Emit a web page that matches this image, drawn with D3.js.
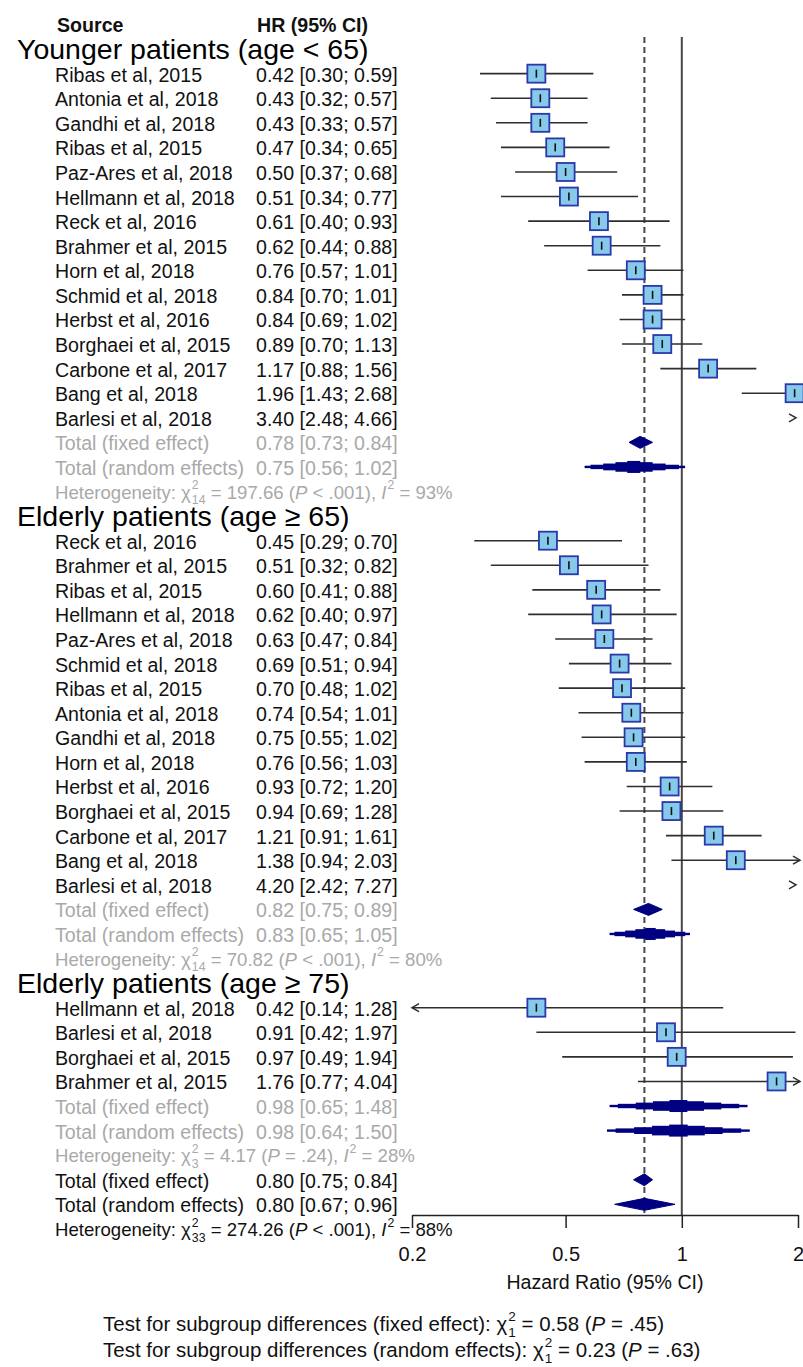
<!DOCTYPE html>
<html>
<head>
<meta charset="utf-8">
<script src="https://cdn.jsdelivr.net/npm/d3@7"></script>
<style>
  body { margin: 0; background: #fff; }
  svg { display: block; }
  text { font-family: "Liberation Sans", Arial, sans-serif; white-space: pre; }
</style>
</head>
<body>
<svg id="chart" width="803" height="1367"></svg>
<script>
// Data.
const groupTitles = ['Younger patients (age < 65)', 'Elderly patients (age \u2265 65)', 'Elderly patients (age \u2265 75)'];

const youngStudy = ['Ribas et al, 2015', 'Antonia et al, 2018', 'Gandhi et al, 2018', 'Ribas et al, 2015',
  'Paz-Ares et al, 2018', 'Hellmann et al, 2018', 'Reck et al, 2016', 'Brahmer et al, 2015', 'Horn et al, 2018',
  'Schmid et al, 2018', 'Herbst et al, 2016', 'Borghaei et al, 2015', 'Carbone et al, 2017', 'Bang et al, 2018',
  'Barlesi et al, 2018'];
const youngHr = [0.42, 0.43, 0.43, 0.47, 0.50, 0.51, 0.61, 0.62, 0.76, 0.84, 0.84, 0.89, 1.17, 1.96, 3.40];
const youngLo = [0.30, 0.32, 0.33, 0.34, 0.37, 0.34, 0.40, 0.44, 0.57, 0.70, 0.69, 0.70, 0.88, 1.43, 2.48];
const youngHi = [0.59, 0.57, 0.57, 0.65, 0.68, 0.77, 0.93, 0.88, 1.01, 1.01, 1.02, 1.13, 1.56, 2.68, 4.66];

const old65Study = ['Reck et al, 2016', 'Brahmer et al, 2015', 'Ribas et al, 2015', 'Hellmann et al, 2018',
  'Paz-Ares et al, 2018', 'Schmid et al, 2018', 'Ribas et al, 2015', 'Antonia et al, 2018', 'Gandhi et al, 2018',
  'Horn et al, 2018', 'Herbst et al, 2016', 'Borghaei et al, 2015', 'Carbone et al, 2017', 'Bang et al, 2018',
  'Barlesi et al, 2018'];
const old65Hr = [0.45, 0.51, 0.60, 0.62, 0.63, 0.69, 0.70, 0.74, 0.75, 0.76, 0.93, 0.94, 1.21, 1.38, 4.20];
const old65Lo = [0.29, 0.32, 0.41, 0.40, 0.47, 0.51, 0.48, 0.54, 0.55, 0.56, 0.72, 0.69, 0.91, 0.94, 2.42];
const old65Hi = [0.70, 0.82, 0.88, 0.97, 0.84, 0.94, 1.02, 1.01, 1.02, 1.03, 1.20, 1.28, 1.61, 2.03, 7.27];

const old75Study = ['Hellmann et al, 2018', 'Barlesi et al, 2018', 'Borghaei et al, 2015', 'Brahmer et al, 2015'];
const old75Hr = [0.42, 0.91, 0.97, 1.76];
const old75Lo = [0.14, 0.42, 0.49, 0.77];
const old75Hi = [1.28, 1.97, 1.94, 4.04];

// Pooled estimates per subgroup: [HR, lower, upper].
const groupFixed = [[0.78, 0.73, 0.84], [0.82, 0.75, 0.89], [0.98, 0.65, 1.48]];
const groupRandom = [[0.75, 0.56, 1.02], [0.83, 0.65, 1.05], [0.98, 0.64, 1.50]];
const hetDf = [14, 14, 3, 33];
const hetQ = ['197.66', '70.82', '4.17', '274.26'];
const hetP = ['< .001', '< .001', '= .24', '< .001'];
const hetI2 = ['93%', '80%', '28%', '88%'];

const overallFixed = [0.80, 0.75, 0.84];
const overallRandom = [0.80, 0.67, 0.96];

const axisTicks = [0.2, 0.5, 1, 2];
const testLabels = ['fixed effect', 'random effects'];
const testDf = [1, 1];
const testChi = ['0.58', '0.23'];
const testP = ['.45', '.63'];

// Layout.
const font = 'Liberation Sans';
const studySize = 19.6;
const hetSize = 18.6;
const black = '#111';
const grey = '#a9a9a9';
const fmt = d3.format('.2f');

const svg = d3.select('#chart');
const x = d3.scaleLog().domain([0.2, 2]).range([412, 798]);
const rowY = i => 24.5 + 24.58 * i;
const base = 8; // text baseline below row centre

// Assemble row list.
const groups = [
  [youngStudy, youngHr, youngLo, youngHi],
  [old65Study, old65Hr, old65Lo, old65Hi],
  [old75Study, old75Hr, old75Lo, old75Hi]
];
const rows = [];
let idx = 1;
groups.forEach((g, gi) => {
  rows.push({ type: 'title', i: idx++, label: groupTitles[gi] });
  g[0].forEach((s, k) => {
    rows.push({ type: 'study', i: idx++, label: s, est: [g[1][k], g[2][k], g[3][k]] });
  });
  rows.push({ type: 'pooled', i: idx++, label: 'Total (fixed effect)', est: groupFixed[gi], col: grey });
  rows.push({ type: 'pooled', i: idx++, label: 'Total (random effects)', est: groupRandom[gi], col: grey });
  rows.push({ type: 'het', i: idx++, h: gi, col: grey });
});
rows.push({ type: 'pooled', i: idx++, label: 'Total (fixed effect)', est: overallFixed, col: black });
rows.push({ type: 'pooled', i: idx++, label: 'Total (random effects)', est: overallRandom, col: black });
rows.push({ type: 'het', i: idx++, h: 3, col: black });

// Text with italics and stacked super/subscripts.
function richText(g, x0, y, parts, size, color) {
  let cx = x0;
  parts.forEach(p => {
    if (p.sup !== undefined || p.sub !== undefined) {
      let w = 0;
      if (p.sup !== undefined) {
        const t = g.append('text').attr('x', cx + 1).attr('y', y - size * 0.5)
          .style('font-size', size * 0.66 + 'px').attr('fill', color).text(p.sup);
        w = Math.max(w, t.node().getComputedTextLength());
      }
      if (p.sub !== undefined) {
        const t = g.append('text').attr('x', cx + 1).attr('y', y + size * 0.3)
          .style('font-size', size * 0.66 + 'px').attr('fill', color).text(p.sub);
        w = Math.max(w, t.node().getComputedTextLength());
      }
      cx += w + 1;
    } else {
      const t = g.append('text').attr('x', cx).attr('y', y)
        .style('font-size', size + 'px')
        .style('font-style', p.it ? 'italic' : null)
        .attr('fill', color).text(p.t);
      cx += t.node().getComputedTextLength();
    }
  });
}

// Reference lines.
const lineTop = 37, axisY = 1215;
svg.append('line').attr('x1', x(1)).attr('x2', x(1)).attr('y1', lineTop).attr('y2', axisY)
  .attr('stroke', '#484848').attr('stroke-width', 2);
svg.append('line').attr('x1', x(overallFixed[0])).attr('x2', x(overallFixed[0])).attr('y1', lineTop).attr('y2', axisY)
  .attr('stroke', '#484848').attr('stroke-width', 2).attr('stroke-dasharray', '6,4');

// Column headers.
svg.append('text').attr('x', 57).attr('y', rowY(0) + 7).style('font-size', studySize + 'px')
  .style('font-weight', 'bold').attr('fill', black).text('Source');
svg.append('text').attr('x', 257).attr('y', rowY(0) + 7).style('font-size', studySize + 'px')
  .style('font-weight', 'bold').attr('fill', black).text('HR (95% CI)');

const [xmin, xmax] = x.range();
const lineCol = '#2e2e2e';

function arrowHead(g, tipX, y, dir) {
  g.append('path')
    .attr('d', `M${tipX - dir * 7},${y - 4}L${tipX},${y}L${tipX - dir * 7},${y + 4}`)
    .attr('fill', 'none').attr('stroke', lineCol).attr('stroke-width', 1.5);
}

rows.forEach(r => {
  const y = rowY(r.i);
  if (r.type === 'title') {
    svg.append('text').attr('x', 17).attr('y', y + 10).style('font-size', '28.5px')
      .attr('fill', '#000').text(r.label);
    return;
  }
  if (r.type === 'het') {
    richText(svg, 55, y + base - 1, [
      { t: 'Heterogeneity: \u03c7' }, { sup: '2', sub: String(hetDf[r.h]) },
      { t: ' = ' + hetQ[r.h] + ' (' }, { t: 'P', it: true }, { t: ' ' + hetP[r.h] + '), ' },
      { t: 'I', it: true }, { sup: '2' }, { t: ' = ' + hetI2[r.h] }
    ], hetSize, r.col);
    return;
  }
  const [hr, lo, hi] = r.est;
  const col = r.col || black;
  svg.append('text').attr('x', 55).attr('y', y + base).style('font-size', studySize + 'px')
    .attr('fill', col).text(r.label);
  svg.append('text').attr('x', 256).attr('y', y + base).style('font-size', studySize + 'px')
    .attr('fill', col).text(`${fmt(hr)} [${fmt(lo)}; ${fmt(hi)}]`);

  if (r.type === 'study') {
    if (lo > 2) {
      arrowHead(svg, xmax - 2, y, 1);
      return;
    }
    const x1 = lo < 0.2 ? xmin : x(lo);
    const x2 = hi > 2 ? xmax + 2 : x(hi);
    svg.append('line').attr('x1', x1).attr('x2', x2).attr('y1', y).attr('y2', y)
      .attr('stroke', lineCol).attr('stroke-width', 1.6);
    if (lo < 0.2) arrowHead(svg, xmin, y, -1);
    if (hi > 2) arrowHead(svg, xmax + 2, y, 1);
    const cx = x(hr), s = 18;
    svg.append('rect').attr('x', cx - s / 2).attr('y', y - s / 2).attr('width', s).attr('height', s)
      .attr('fill', '#86c9ea').attr('stroke', '#2a38a8').attr('stroke-width', 1.8);
    svg.append('line').attr('x1', cx).attr('x2', cx).attr('y1', y - 4).attr('y2', y + 4)
      .attr('stroke', '#111').attr('stroke-width', 1.6);
  } else {
    const xl = x(lo), xc = x(hr), xr = x(hi);
    const navy = '#000080';
    if (xr - xl > 70) {
      // wide diamonds render as a stepped shape
      const fr = [1, 0.88, 0.62, 0.37, 0.13];
      const hh = [1.2, 2.2, 3.4, 4.8, 6];
      fr.forEach((f, k) => {
        const a = xc - f * (xc - xl), b = xc + f * (xr - xc);
        svg.append('rect').attr('x', a).attr('y', y - hh[k]).attr('width', b - a).attr('height', hh[k] * 2)
          .attr('fill', navy);
      });
    } else {
      svg.append('path').attr('d', `M${xl},${y}L${xc},${y - 6}L${xr},${y}L${xc},${y + 6}Z`)
        .attr('fill', navy).attr('stroke', navy).attr('stroke-width', 1);
    }
  }
});

// Axis.
const axis = d3.axisBottom(x).tickValues(axisTicks).tickFormat(d => String(d)).tickSize(13).tickSizeOuter(0);
const ag = svg.append('g').attr('transform', `translate(0,${axisY})`).call(axis);
ag.select('.domain').attr('stroke', '#222').attr('stroke-width', 1.5);
ag.selectAll('.tick line').attr('stroke', '#222').attr('stroke-width', 1.5);
ag.selectAll('.tick text').attr('fill', black).style('font-size', '20px')
  .style('font-family', font).attr('y', 46).attr('dy', 0);

svg.append('text').attr('x', (xmin + xmax) / 2).attr('y', 1289).attr('text-anchor', 'middle')
  .style('font-size', studySize + 'px').attr('fill', black).text('Hazard Ratio (95% CI)');

// Tests for subgroup differences.
testLabels.forEach((lab, k) => {
  richText(svg, 103, 1331 + 26 * k, [
    { t: 'Test for subgroup differences (' + lab + '): \u03c7' }, { sup: '2', sub: String(testDf[k]) },
    { t: ' = ' + testChi[k] + ' (' }, { t: 'P', it: true }, { t: ' = ' + testP[k] + ')' }
  ], 20.5, black);
});
</script>
</body>
</html>
